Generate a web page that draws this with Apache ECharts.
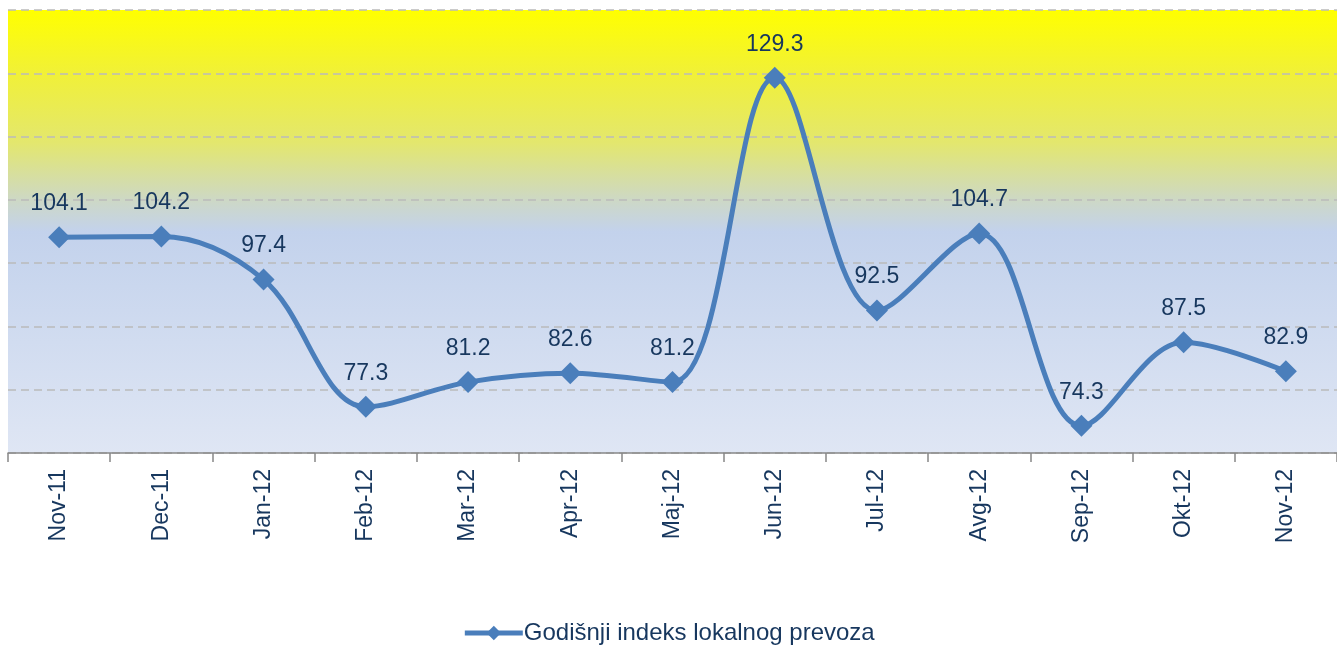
<!DOCTYPE html>
<html><head><meta charset="utf-8">
<script src="https://cdn.jsdelivr.net/npm/echarts@6/dist/echarts.min.js"></script>
<style>html,body{margin:0;padding:0;background:#fff}#c{width:1337px;height:652px}</style>
</head><body><div id="c"></div>
<script>
const categories = ['Nov-11','Dec-11','Jan-12','Feb-12','Mar-12','Apr-12','Maj-12','Jun-12','Jul-12','Avg-12','Sep-12','Okt-12','Nov-12'];
const values = [104.1,104.2,97.4,77.3,81.2,82.6,81.2,129.3,92.5,104.7,74.3,87.5,82.9];
const seriesName = 'Godišnji indeks lokalnog prevoza';
const navy = '#17375E';
const chart = echarts.init(document.getElementById('c'));
chart.setOption({
  animation: false,
  grid: {left: 8, right: 0, top: 10, bottom: 199, show: true, borderWidth: 0,
    backgroundColor: new echarts.graphic.LinearGradient(0,0,0,1,[
      {offset:0, color:'#FFFF00'},
      {offset:0.15, color:'#F0F03A'},
      {offset:0.3, color:'#E3E76E'},
      {offset:0.43, color:'#CDD8C6'},
      {offset:0.5, color:'#C3D2EC'},
      {offset:1, color:'#DFE6F4'}
    ])},
  legend: {bottom: 2, left: 'center', itemWidth: 58, itemHeight: 18, itemGap: 0,
    lineStyle: {width: 5, color: '#4A7EBB'},
    itemStyle: {color: '#4A7EBB'},
    textStyle: {fontFamily: 'Liberation Sans, Arial', fontSize: 24, color: navy, padding: [0,0,0,-4]},
    data: [{name: seriesName}]},
  xAxis: {type: 'category', data: categories, boundaryGap: true,
    axisLine: {lineStyle: {color: '#888', width: 1.5}},
    axisTick: {show: true, length: 9, interval: 0, lineStyle: {color: '#888', width: 1.5}},
    axisLabel: {rotate: 90, margin: 16, interval: 0, fontFamily: 'Liberation Sans, Arial', fontSize: 23, color: navy}},
  yAxis: {type: 'value', min: 70, max: 140, interval: 10,
    axisLine: {show: false}, axisTick: {show: false}, axisLabel: {show: false},
    splitLine: {lineStyle: {type: [8,5], color: '#BBBBBB', width: 1.5}}},
  series: [{
    name: seriesName, type: 'line', data: values, smooth: 0.35,
    symbol: 'diamond', symbolSize: 22,
    lineStyle: {color: '#4A7EBB', width: 5},
    itemStyle: {color: '#4A7EBB'},
    label: {show: true, position: 'top', distance: 11, fontFamily: 'Liberation Sans, Arial', fontSize: 23, color: navy,
      formatter: p => p.value.toFixed(1)}
  }]
});
</script></body></html>
